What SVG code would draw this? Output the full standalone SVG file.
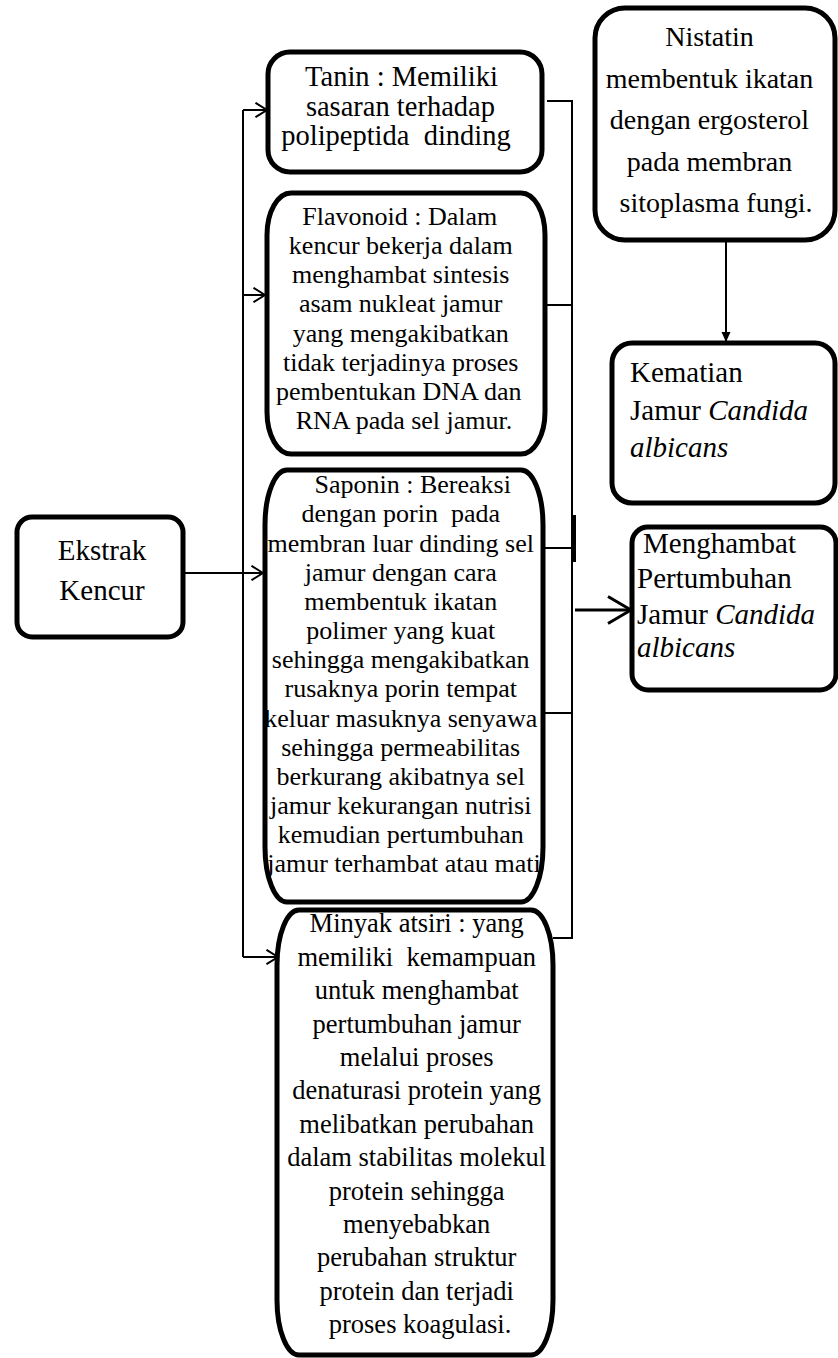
<svg xmlns="http://www.w3.org/2000/svg" width="838" height="1358" viewBox="0 0 838 1358">
<style>
  .box { fill: #fff; stroke: #000; stroke-width: 5; }
  .fill { fill: #fff; stroke: none; }
  .frame { fill: none; stroke: #000; stroke-width: 5; }
  .t { font-family: "Liberation Serif", "Times New Roman", serif; fill: #000; }
  .c { text-anchor: middle; }
  .i { font-style: italic; }
  .ln { fill: none; stroke: #000; stroke-width: 2; }
  .thick { fill: none; stroke: #000; stroke-width: 3; }
</style>
<defs>
  <marker id="chev" markerUnits="userSpaceOnUse" viewBox="0 0 13 16" refX="12" refY="8" markerWidth="13" markerHeight="16" orient="auto">
    <path d="M0.5,0.8 L12,8 L0.5,15.2" fill="none" stroke="#000" stroke-width="2"/>
  </marker>
  <marker id="chevBig" markerUnits="userSpaceOnUse" viewBox="0 0 26 30" refX="24" refY="15" markerWidth="26" markerHeight="30" orient="auto">
    <path d="M1,1.5 L24,15 L1,28.5" fill="none" stroke="#000" stroke-width="3"/>
  </marker>
  <marker id="tri" markerUnits="userSpaceOnUse" viewBox="0 0 10 10" refX="10" refY="5" markerWidth="10" markerHeight="10" orient="auto">
    <path d="M0,0.5 L10,5 L0,9.5 z" fill="#000"/>
  </marker>
</defs>

<g id="node-ekstrak">
  <rect class="box" x="17" y="517" width="166" height="120" rx="15" ry="15"/>
  <text class="t c" font-size="29" x="102" y="560">Ekstrak</text>
  <text class="t c" font-size="29" x="102" y="600">Kencur</text>
</g>

<g id="node-tanin">
  <rect class="box" x="268" y="52" width="274" height="120" rx="22" ry="22"/>
  <text class="t c" font-size="28.5">
    <tspan x="405" y="86">Tanin : Memiliki</tspan>
    <tspan x="404" y="116">sasaran terhadap</tspan>
    <tspan x="396" y="145" xml:space="preserve">polipeptida  dinding</tspan>
  </text>
</g>

<g id="node-flavonoid">
  <rect class="box" x="267" y="193" width="278" height="261" rx="24" ry="42"/>
  <text class="t c" font-size="26">
    <tspan x="403" y="225">Flavonoid : Dalam</tspan>
    <tspan x="404" y="254">kencur bekerja dalam</tspan>
    <tspan x="404" y="283">menghambat sintesis</tspan>
    <tspan x="404" y="312">asam nukleat jamur</tspan>
    <tspan x="404" y="342">yang mengakibatkan</tspan>
    <tspan x="404" y="371">tidak terjadinya proses</tspan>
    <tspan x="402" y="400">pembentukan DNA dan</tspan>
    <tspan x="404" y="429">RNA pada sel jamur.</tspan>
  </text>
</g>

<g id="node-saponin">
  <rect class="fill" x="265" y="470" width="278" height="432" rx="22" ry="55"/>
  <text class="t c" font-size="26">
    <tspan x="416" y="493">Saponin : Bereaksi</tspan>
    <tspan x="404" y="522" xml:space="preserve">dengan porin  pada</tspan>
    <tspan x="404" y="552">membran luar dinding sel</tspan>
    <tspan x="404" y="581">jamur dengan cara</tspan>
    <tspan x="404" y="610">membentuk ikatan</tspan>
    <tspan x="404" y="639">polimer yang kuat</tspan>
    <tspan x="404" y="668">sehingga mengakibatkan</tspan>
    <tspan x="404" y="697">rusaknya porin tempat</tspan>
    <tspan x="404" y="727">keluar masuknya senyawa</tspan>
    <tspan x="404" y="756">sehingga permeabilitas</tspan>
    <tspan x="404" y="785">berkurang akibatnya sel</tspan>
    <tspan x="404" y="814">jamur kekurangan nutrisi</tspan>
    <tspan x="404" y="843">kemudian pertumbuhan</tspan>
    <tspan x="404" y="872">jamur terhambat atau mati</tspan>
  </text>
  <rect class="frame" x="265" y="470" width="278" height="432" rx="22" ry="55"/>
</g>

<g id="node-minyak">
  <rect class="box" x="277" y="910" width="276" height="445" rx="22" ry="55"/>
  <text class="t c" font-size="26.5">
    <tspan x="420" y="932">Minyak atsiri : yang</tspan>
    <tspan x="420" y="966" xml:space="preserve">memiliki  kemampuan</tspan>
    <tspan x="420" y="999">untuk menghambat</tspan>
    <tspan x="420" y="1033">pertumbuhan jamur</tspan>
    <tspan x="420" y="1066">melalui proses</tspan>
    <tspan x="420" y="1099">denaturasi protein yang</tspan>
    <tspan x="420" y="1133">melibatkan perubahan</tspan>
    <tspan x="420" y="1166">dalam stabilitas molekul</tspan>
    <tspan x="420" y="1200">protein sehingga</tspan>
    <tspan x="420" y="1233">menyebabkan</tspan>
    <tspan x="420" y="1266">perubahan struktur</tspan>
    <tspan x="420" y="1300">protein dan terjadi</tspan>
    <tspan x="420" y="1333">proses koagulasi.</tspan>
  </text>
</g>

<g id="node-nistatin">
  <rect class="box" x="595" y="8" width="240" height="232" rx="30" ry="30"/>
  <text class="t c" font-size="28">
    <tspan x="713" y="46">Nistatin</tspan>
    <tspan x="713" y="88">membentuk ikatan</tspan>
    <tspan x="713" y="129">dengan ergosterol</tspan>
    <tspan x="713" y="171">pada membran</tspan>
    <tspan x="716" y="212">sitoplasma fungi.</tspan>
  </text>
</g>

<g id="node-kematian">
  <rect class="box" x="612" y="343" width="223" height="160" rx="20" ry="20"/>
  <text class="t" font-size="29">
    <tspan x="630" y="382">Kematian</tspan>
    <tspan x="630" y="420">Jamur <tspan class="i">Candida</tspan></tspan>
    <tspan class="i" x="630" y="457">albicans</tspan>
  </text>
</g>

<g id="node-menghambat">
  <rect class="box" x="632" y="527" width="204" height="163" rx="16" ry="16"/>
  <text class="t" font-size="29">
    <tspan x="643" y="553">Menghambat</tspan>
    <tspan x="637" y="588">Pertumbuhan</tspan>
    <tspan x="637" y="624">Jamur <tspan class="i">Candida</tspan></tspan>
    <tspan class="i" x="637" y="657">albicans</tspan>
  </text>
</g>

<g id="connectors">
  <!-- left distribution -->
  <path class="ln" d="M243,110 V957"/>
  <path class="ln" d="M243,110 H267" marker-end="url(#chev)"/>
  <path class="ln" d="M243,295 H265" marker-end="url(#chev)"/>
  <path class="ln" d="M185,573 H263" marker-end="url(#chev)"/>
  <path class="ln" d="M243,957 H278" marker-end="url(#chev)"/>
  <!-- right collection -->
  <path class="ln" d="M547,101 H572 V938 H553"/>
  <path class="ln" d="M545,305 H572"/>
  <path class="ln" d="M543,548 H572"/>
  <path class="ln" d="M543,713 H572"/>
  <path d="M574,515 V562" fill="none" stroke="#000" stroke-width="4"/>
  <path class="thick" d="M575,610 H631" marker-end="url(#chevBig)"/>
  <!-- nistatin to kematian -->
  <path class="ln" d="M726,242 V342" marker-end="url(#tri)"/>
</g>
</svg>
